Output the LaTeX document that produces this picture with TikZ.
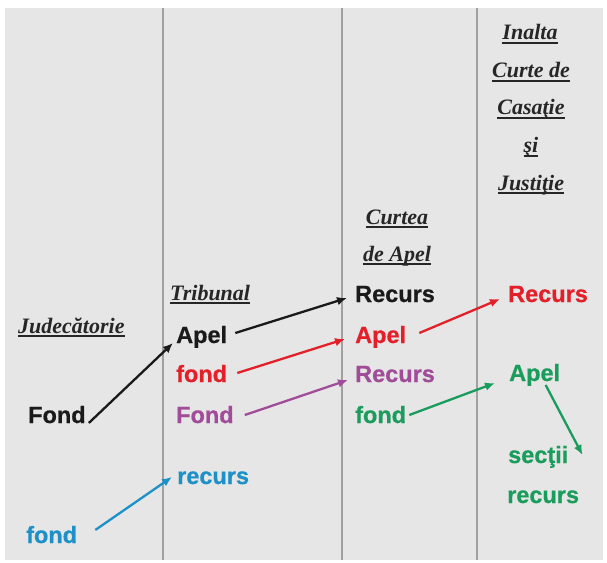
\documentclass[tikz,border=0pt]{standalone}
\usepackage{fontspec}
\setmainfont{Liberation Serif}
\setsansfont{Liberation Sans}
\newfontfamily\labfont[FakeBold=0.6]{Liberation Sans Bold}
\usetikzlibrary{arrows.meta,calc}
\definecolor{bgc}{HTML}{E6E6E6}
\definecolor{linec}{HTML}{A0A0A0}
\definecolor{hdc}{HTML}{262626}
\definecolor{blk}{HTML}{1A1A1A}
\definecolor{rd}{HTML}{E3202A}
\definecolor{pu}{HTML}{A04C98}
\definecolor{bl}{HTML}{1E90C8}
\definecolor{gr}{HTML}{1A9C5C}
\newcommand{\hdul}[1]{\leavevmode\setbox0\hbox{#1}\rlap{\rule[-3.9bp]{\wd0}{1.5bp}}\box0}
\tikzset{
  lab/.style={font=\labfont\fontsize{23.5bp}{28bp}\selectfont, inner sep=0pt, anchor=base west},
  head/.style={font=\rmfamily\bfseries\itshape\fontsize{22bp}{26bp}\selectfont, inner sep=0pt, anchor=base, text=hdc},
  arr/.style={line width=2.3bp, -{Latex[length=10bp,width=8.5bp]}},
  divider/.style={draw=linec, line width=1.2bp}
}
\begin{document}
\begin{tikzpicture}[x=1bp,y=-1bp]
\path[use as bounding box] (0,0) rectangle (607,563);
\fill[bgc] (5,8) rectangle (603,560);
\coordinate (d1t) at (163,8); \coordinate (d1b) at (163,560);
\coordinate (d2t) at (342,8); \coordinate (d2b) at (342,560);
\coordinate (d3t) at (477,8); \coordinate (d3b) at (477,560);
\draw[divider] (d1t) -- (d1b);
\draw[divider] (d2t) -- (d2b);
\draw[divider] (d3t) -- (d3b);
% headers
\node[head, anchor=base west] (hjud) at (18,333) {\hdul{Judecătorie}};
\node[head, anchor=base west] (htrib) at (170,300) {\hdul{Tribunal}};
\node[head] (hca1) at (397,224) {\hdul{Curtea}};
\node[head] (hca2) at (397,261) {\hdul{de Apel}};
\node[head] (hic1) at (530,40) {\hdul{Inalta}};
\node[head] (hic2) at (531,78) {\hdul{Curte de}};
\node[head] (hic3) at (531,115) {\hdul{Casaţie}};
\node[head] (hic4) at (531,153) {\hdul{şi}};
\node[head] (hic5) at (531,190) {\hdul{Justiţie}};
% column 1
\node[lab, text=blk] (jfond) at (28,423) {Fond};
\node[lab, text=bl] (jfondb) at (26,543) {fond};
% column 2
\node[lab, text=blk] (tapel) at (176,343) {Apel};
\node[lab, text=rd] (tfond) at (176,382) {fond};
\node[lab, text=pu] (tFond) at (176,423) {Fond};
\node[lab, text=bl] (trec) at (177,484) {recurs};
% column 3
\node[lab, text=blk] (crec) at (355,302) {Recurs};
\node[lab, text=rd] (capel) at (355,343) {Apel};
\node[lab, text=pu] (crecp) at (355,382) {Recurs};
\node[lab, text=gr] (cfond) at (355,423) {fond};
% column 4
\node[lab, text=rd] (irec) at (508,302) {Recurs};
\node[lab, text=gr] (iapel) at (509,381) {Apel};
\node[lab, text=gr] (isec) at (508,463) {secţii};
\node[lab, text=gr] (irec2) at (507,503) {recurs};
% arrows
\draw[arr, blk] ($(jfond.base east)+(3,0)$) -- ($(tapel.base west)+(-3,0)$);
\draw[arr, bl] ($(jfondb.base east)+(18,-13)$) -- ($(trec.base west)+(-5,-7)$);
\draw[arr, blk] ($(tapel.base east)+(8,-10)$) -- ($(crec.base west)+(-8,-4)$);
\draw[arr, rd] ($(tfond.base east)+(10,-9)$) -- ($(capel.base west)+(-10,-4)$);
\draw[arr, pu] ($(tFond.base east)+(11,-8)$) -- ($(crecp.base west)+(-7,-2)$);
\draw[arr, rd] ($(capel.base east)+(13,-10)$) -- ($(irec.base west)+(-8,-3)$);
\draw[arr, gr] ($(cfond.base east)+(3,-8)$) -- ($(iapel.base west)+(-14,2)$);
\draw[arr, gr] ($(iapel.base)+(11,4)$) -- ($(isec.base east)+(14,-8)$);
\end{tikzpicture}
\end{document}
